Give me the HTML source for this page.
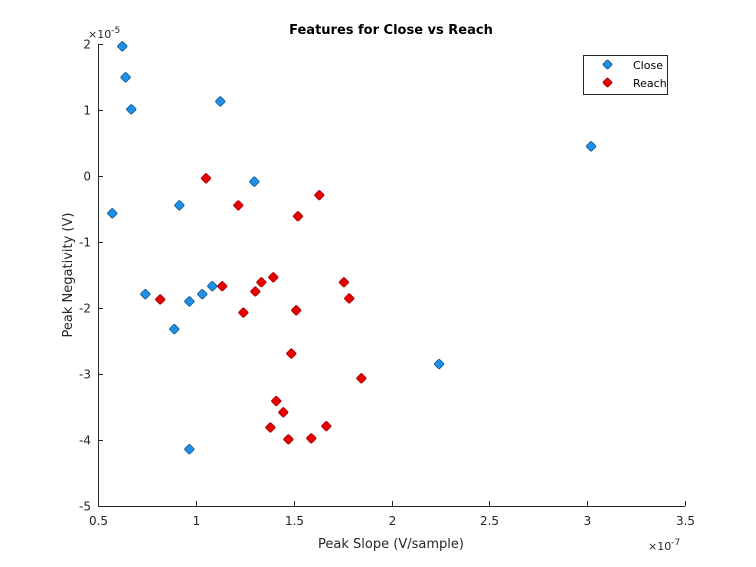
<!DOCTYPE html>
<html><head><meta charset="utf-8"><style>
body{margin:0;background:#fff}
svg{display:block;font-family:"DejaVu Sans","Liberation Sans",sans-serif}
</style></head><body>
<svg id="chart" width="756" height="567" viewBox="0 0 756 567" xmlns="http://www.w3.org/2000/svg">
<rect width="756" height="567" fill="#fff"/>
<g id="axes"></g>
<g id="marks"></g>
<text x="391" y="34" text-anchor="middle" font-size="13" font-weight="bold" fill="#000">Features for Close vs Reach</text>
<text x="391" y="548" text-anchor="middle" font-size="13" fill="#262626">Peak Slope (V/sample)</text>
<text transform="translate(72,275) rotate(-90)" text-anchor="middle" font-size="13" fill="#262626">Peak Negativity (V)</text>
<text x="88" y="38" font-size="11" fill="#262626">×10<tspan dy="-5" font-size="9">-5</tspan></text>
<text x="648" y="550" font-size="11" fill="#262626">×10<tspan dy="-5" font-size="9">-7</tspan></text>
<g>
<rect x="583.5" y="55.5" width="84" height="39" fill="#fff" stroke="#262626" stroke-width="1"/>
<rect x="604" y="61" width="7" height="7" rx="1.2" transform="rotate(45 607.5 64.5)" fill="#1e90e6" stroke="#0a4a80" stroke-width="0.7"/>
<text x="633" y="69" font-size="11" fill="#000">Close</text>
<rect x="604" y="79" width="7" height="7" rx="1.2" transform="rotate(45 607.5 82.5)" fill="#e60000" stroke="#a00000" stroke-width="0.7"/>
<text x="633" y="87" font-size="11" fill="#000">Reach</text>
</g>
</svg>
<script>
const closeX=[0.624,0.641,0.670,1.125,0.573,0.916,1.299,0.742,0.967,1.033,1.084,0.890,0.967,2.243,3.02];
const closeY=[1.965,1.495,1.01,1.13,-0.565,-0.445,-0.086,-1.79,-1.90,-1.79,-1.67,-2.32,-4.14,-2.85,0.45];
const reachX=[1.052,1.217,1.631,1.522,0.818,1.135,1.243,1.304,1.335,1.396,1.513,1.488,1.757,1.784,1.846,1.411,1.447,1.381,1.473,1.590,1.667];
const reachY=[-0.035,-0.445,-0.29,-0.61,-1.87,-1.67,-2.07,-1.75,-1.61,-1.535,-2.035,-2.69,-1.61,-1.855,-3.065,-3.41,-3.58,-3.81,-3.99,-3.975,-3.79];
const xTicks=[0.5,1,1.5,2,2.5,3,3.5];
const xTickLabels=["0.5","1","1.5","2","2.5","3","3.5"];
const yTicks=[2,1,0,-1,-2,-3,-4,-5];
const yTickLabels=["2","1","0","-1","-2","-3","-4","-5"];
const L=98,R=685,T=44,B=506;
const sx=v=>L+(v-0.5)/3*(R-L);
const sy=v=>T+(2-v)/7*(B-T);
const NS="http://www.w3.org/2000/svg";
const axes=document.getElementById('axes'),marks=document.getElementById('marks');
function mk(tag,attrs,parent){const e=document.createElementNS(NS,tag);for(const k in attrs)e.setAttribute(k,attrs[k]);parent.appendChild(e);return e;}
const xa=mk('line',{x1:L,y1:B+0.5,x2:R,y2:B+0.5,stroke:'#262626'},axes);


const ya=mk('line',{x1:L+0.5,y1:T,x2:L+0.5,y2:B,stroke:'#262626'},axes);


xTicks.forEach((v,i)=>{const x=Math.round(sx(v))+0.5;
 mk('line',{x1:x,y1:B,x2:x,y2:B-5,stroke:'#262626'},axes);
 const t=mk('text',{x:x,y:B+19,'text-anchor':'middle','font-size':12,fill:'#262626'},axes);
 
 
 t.textContent=xTickLabels[i];});
yTicks.forEach((v,i)=>{const y=Math.round(sy(v))+0.5;
 mk('line',{x1:L,y1:y,x2:L+5,y2:y,stroke:'#262626'},axes);
 const t=mk('text',{x:L-7,y:y+4,'text-anchor':'end','font-size':12,fill:'#262626'},axes);
 
 
 t.textContent=yTickLabels[i];});
function pt(x,y,fill,stroke,name){const cx=sx(x),cy=sy(y);
 const r=mk('rect',{x:cx-3.7,y:cy-3.7,width:7.4,height:7.4,rx:1.3,transform:`rotate(45 ${cx} ${cy})`,fill:fill,stroke:stroke,'stroke-width':0.7},marks);
 
 }
closeX.forEach((x,i)=>pt(x,closeY[i],'#1e90e6','#0a4a80','close-point'));
reachX.forEach((x,i)=>pt(x,reachY[i],'#e60000','#a00000','reach-point'));
</script>
</body></html>
